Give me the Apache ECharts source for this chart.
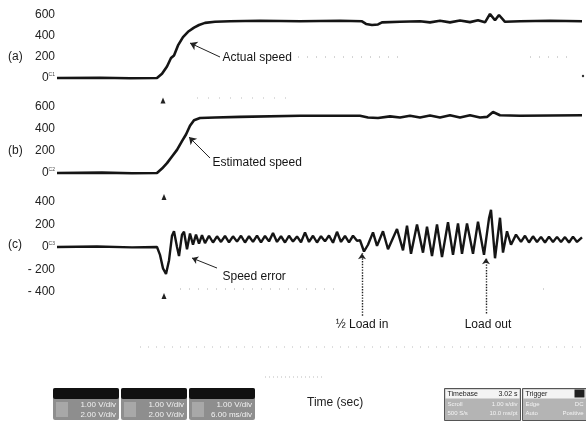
<!DOCTYPE html>
<html>
<head>
<meta charset="utf-8">
<script src="https://cdn.jsdelivr.net/npm/echarts@6/dist/echarts.min.js"></script>
<style>html,body{margin:0;padding:0;background:#fff}#c{width:586px;height:425px}</style>
</head>
<body>
<div id="c"></div>
<script>
// ---- data (time in s) ----
const timeA  = [0,0.86,1.46,2.0,2.1,2.2,2.28,2.34,2.42,2.52,2.62,2.74,2.84,2.96,3.16,3.46,4.06,4.86,5.66,6.1,6.18,6.3,6.42,6.5,6.86,7.26,7.46,7.66,7.86,8.06,8.26,8.42,8.56,8.66,8.76,8.84,8.96,9.26,9.86,10.5];
const speedA = [0,3,-3,0,40,110,190,215,310,390,440,480,505,525,535,540,545,540,545,540,515,505,510,530,535,540,530,545,530,548,532,550,530,610,550,600,535,540,545,540];

const timeB  = [0,0.9,1.5,2.0,2.1,2.2,2.3,2.4,2.5,2.58,2.66,2.74,2.86,3.16,3.66,4.86,6.06,6.22,6.42,6.66,6.86,7.06,7.26,7.46,7.66,7.86,8.06,8.26,8.46,8.6,8.72,8.86,9.26,10.5];
const speedB = [0,3,-2,0,40,90,150,210,290,350,430,480,500,505,510,520,520,505,500,515,505,520,505,522,505,525,505,525,505,510,555,525,520,525];

const timeC  = [0,0.8,1.5,2.0,2.06,2.12,2.18,2.24,2.3,2.34,2.4,2.44,2.5,2.54,2.6,2.66,2.72,2.78,2.84,2.9,2.96,
  3.04,3.12,3.2,3.28,3.36,3.44,3.52,3.6,3.68,3.76,3.84,3.92,4.0,4.08,4.16,4.24,4.32,4.4,4.48,4.56,4.64,4.72,4.8,4.88,4.96,5.04,5.12,5.2,5.28,5.36,5.44,5.52,5.6,5.68,5.76,5.84,5.92,6.0,
  6.06,6.14,6.22,6.32,6.4,6.52,6.62,6.8,6.92,7.0,7.08,7.2,7.32,7.4,7.5,7.6,7.7,7.82,7.92,8.02,8.1,8.2,8.32,8.42,8.54,8.64,8.68,8.76,8.86,8.92,9.0,9.08,9.18,
  9.28,9.36,9.44,9.52,9.6,9.68,9.76,9.84,9.92,10.0,10.08,10.16,10.24,10.32,10.4,10.5];
const errorC = [0,4,-3,0,-70,-190,-240,-120,100,140,0,-80,110,135,-20,120,20,110,30,105,35,
  100,40,95,45,98,42,95,48,100,40,96,45,102,42,98,50,125,45,96,40,100,48,94,42,130,45,100,40,96,50,102,38,135,45,98,42,100,55,
  60,-40,20,130,10,140,-20,160,-30,190,-60,200,-50,180,-80,200,-90,220,-70,210,-60,210,-60,225,-70,255,330,-100,260,-50,140,20,110,
  45,100,40,95,45,90,40,92,45,90,45,88,40,92,45,85];

const ticksSpeed = [0,200,400,600];
const ticksError = [-400,-200,0,200,400];

const zip = (t, v) => t.map((x, i) => [x, v[i]]);

const ink = '#151515';
const font = 'Liberation Sans, Arial, sans-serif';

function yAxis(idx, min, max, ticks, ch) {
  return {
    gridIndex: idx, type: 'value', min: min, max: max, interval: 200,
    axisLine: {show: false}, axisTick: {show: false}, splitLine: {show: false},
    axisLabel: {
      margin: 2, color: '#222', fontSize: 12, fontFamily: font,
      formatter: v => ticks.indexOf(v) < 0 ? '' : (v === 0 ? '0{s|' + ch + '}' : (v < 0 ? '- ' + Math.abs(v) : String(v))),
      rich: {s: {fontSize: 5, color: '#444', padding: [0, 0, 7, 0]}}
    }
  };
}
function xAxis(idx) {
  return {gridIndex: idx, type: 'value', min: 0, max: 10.5, show: false};
}
function arrow(p1, p2, dotted, curve) {
  return [{coord: p1, lineStyle: {type: dotted ? 'dotted' : 'solid', width: dotted ? 1.4 : 1, color: '#222', curveness: curve || 0}},
          {coord: p2}];
}
function textPt(name, coord, pos) {
  return {name: name, coord: coord, symbol: 'rect', symbolSize: 1, itemStyle: {color: 'rgba(0,0,0,0)'},
          label: {show: true, position: pos || 'right', distance: 0, formatter: name, color: ink, fontSize: 12, fontFamily: font}};
}
function trig(coord) {
  return {coord: coord, symbol: 'triangle', symbolSize: [5, 6], itemStyle: {color: '#222'}, label: {show: false}};
}
const dots = (x1, y1, x2, y2, c, gap) => ({type: 'line', silent: true, shape: {x1: x1, y1: y1, x2: x2, y2: y2},
  style: {stroke: c || '#aaa', lineDash: [1, gap || 8], lineWidth: 1}});
function chBox(left, top, l1, l2) {
  return {type: 'group', left: left, top: top, children: [
    {type: 'rect', shape: {x: 0, y: 0, width: 66, height: 32, r: 2}, style: {fill: '#8e8e8e'}},
    {type: 'rect', shape: {x: 0, y: 0, width: 66, height: 11, r: 2}, style: {fill: '#111'}},
    {type: 'rect', shape: {x: 3, y: 14, width: 12, height: 15}, style: {fill: '#a8a8a8'}},
    {type: 'text', style: {x: 63, y: 13, text: l1, align: 'right', font: '8px ' + font, fill: '#f2f2f2'}},
    {type: 'text', style: {x: 63, y: 23, text: l2, align: 'right', font: '8px ' + font, fill: '#f2f2f2'}}
  ]};
}

const chart = echarts.init(document.getElementById('c'));
chart.setOption({
  animation: false,
  backgroundColor: '#fff',
  grid: [
    {left: 57, right: 4, top: 15, height: 105},
    {left: 57, right: 4, top: 107, height: 110},
    {left: 57, right: 4, top: 202, height: 135}
  ],
  xAxis: [xAxis(0), xAxis(1), xAxis(2)],
  yAxis: [yAxis(0, -400, 600, ticksSpeed, 'C1'), yAxis(1, -400, 600, ticksSpeed, 'C2'), yAxis(2, -800, 400, ticksError, 'C3')],
  series: [
    {
      name: 'Actual speed', type: 'line', xAxisIndex: 0, yAxisIndex: 0, clip: false,
      showSymbol: false, data: zip(timeA, speedA), lineStyle: {color: ink, width: 2.6},
      markLine: {silent: true, symbol: ['none', 'arrow'], symbolSize: 7, label: {show: false},
        data: [arrow([3.26, 200], [2.66, 333])]},
      markPoint: {silent: true, data: [textPt('Actual speed', [3.3, 190]), trig([2.12, -215])]}
    },
    {
      name: 'Estimated speed', type: 'line', xAxisIndex: 1, yAxisIndex: 1, clip: false,
      showSymbol: false, data: zip(timeB, speedB), lineStyle: {color: ink, width: 2.6},
      markLine: {silent: true, symbol: ['none', 'arrow'], symbolSize: 7, label: {show: false},
        data: [arrow([3.06, 136], [2.64, 327])]},
      markPoint: {silent: true, data: [textPt('Estimated speed', [3.1, 91]), trig([2.14, -218])]}
    },
    {
      name: 'Speed error', type: 'line', xAxisIndex: 2, yAxisIndex: 2, clip: false,
      showSymbol: false, data: zip(timeC, errorC), lineStyle: {color: ink, width: 2.4},
      markLine: {silent: true, symbol: ['none', 'arrow'], symbolSize: 6, label: {show: false},
        data: [arrow([3.2, -187], [2.7, -98], false, -0.25),
               arrow([6.1, -610], [6.1, -55], true),
               arrow([8.58, -590], [8.58, -100], true)]},
      markPoint: {silent: true, data: [
        textPt('Speed error', [3.3, -267]),
        textPt('½ Load in', [6.1, -690], 'inside'),
        textPt('Load out', [8.62, -690], 'inside'),
        trig([2.14, -435])]}
    }
  ],
  graphic: [
    {type: 'text', left: 8, top: 51, style: {text: '(a)', font: '12px ' + font, fill: '#222'}},
    {type: 'text', left: 8, top: 145, style: {text: '(b)', font: '12px ' + font, fill: '#222'}},
    {type: 'text', left: 8, top: 239, style: {text: '(c)', font: '12px ' + font, fill: '#222'}},
    // faint scan dotted lines
    dots(298, 57, 405, 57), dots(530, 57, 568, 57),
    dots(197, 98, 293, 98, '#bbb', 10),
    dots(180, 289, 340, 289), dots(543, 289, 547, 289),
    dots(140, 347, 586, 347, '#bbb', 7),
    dots(265, 377, 322, 377, '#bbb', 3),
    {type: 'circle', silent: true, shape: {cx: 583, cy: 76, r: 1.2}, style: {fill: '#333'}},
    // channel boxes
    chBox(53, 388, '1.00 V/div', '2.00 V/div'),
    chBox(121, 388, '1.00 V/div', '2.00 V/div'),
    chBox(189, 388, '1.00 V/div', '6.00 ms/div'),
    {type: 'text', left: 307, top: 397, style: {text: 'Time (sec)', font: '12px ' + font, fill: '#222'}},
    {type: 'group', left: 444, top: 388, children: [
      {type: 'rect', shape: {x: 0, y: 0, width: 76, height: 32}, style: {fill: '#b4b4b4', stroke: '#555', lineWidth: 1}},
      {type: 'rect', shape: {x: 1, y: 1, width: 74, height: 9}, style: {fill: '#f4f4f4'}},
      {type: 'text', style: {x: 3, y: 2, text: 'Timebase', font: '7px ' + font, fill: '#222'}},
      {type: 'text', style: {x: 73, y: 2, text: '3.02 s', align: 'right', font: '7px ' + font, fill: '#222'}},
      {type: 'text', style: {x: 3, y: 13, text: 'Scroll', font: '6px ' + font, fill: '#f4f4f4'}},
      {type: 'text', style: {x: 73, y: 13, text: '1.00 s/div', align: 'right', font: '6px ' + font, fill: '#f4f4f4'}},
      {type: 'text', style: {x: 3, y: 22, text: '500 S/s', font: '6px ' + font, fill: '#f4f4f4'}},
      {type: 'text', style: {x: 73, y: 22, text: '10.0 ms/pt', align: 'right', font: '6px ' + font, fill: '#f4f4f4'}}
    ]},
    {type: 'group', left: 522, top: 388, children: [
      {type: 'rect', shape: {x: 0, y: 0, width: 64, height: 32}, style: {fill: '#b4b4b4', stroke: '#555', lineWidth: 1}},
      {type: 'rect', shape: {x: 1, y: 1, width: 62, height: 9}, style: {fill: '#f4f4f4'}},
      {type: 'rect', shape: {x: 52, y: 1, width: 10, height: 8}, style: {fill: '#222'}},
      {type: 'text', style: {x: 3, y: 2, text: 'Trigger', font: '7px ' + font, fill: '#222'}},
      {type: 'text', style: {x: 3, y: 13, text: 'Edge', font: '6px ' + font, fill: '#f4f4f4'}},
      {type: 'text', style: {x: 61, y: 13, text: 'DC', align: 'right', font: '6px ' + font, fill: '#f4f4f4'}},
      {type: 'text', style: {x: 3, y: 22, text: 'Auto', font: '6px ' + font, fill: '#f4f4f4'}},
      {type: 'text', style: {x: 61, y: 22, text: 'Positive', align: 'right', font: '6px ' + font, fill: '#f4f4f4'}}
    ]}
  ]
});
</script>
</body>
</html>
